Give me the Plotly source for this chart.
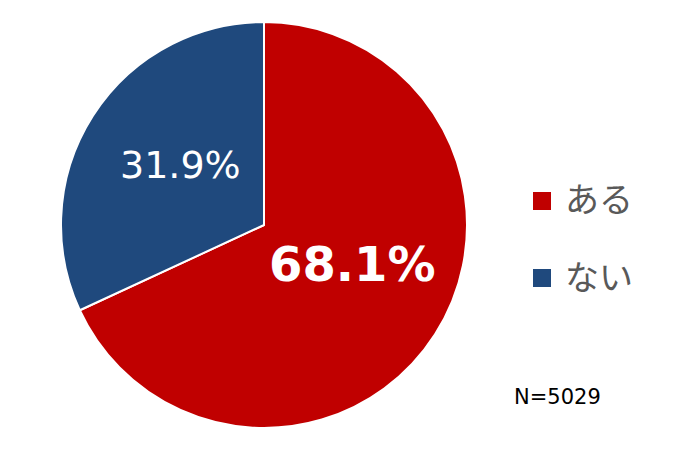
import plotly.graph_objects as go

labels = ['ある', 'ない']
values = [68.1, 31.9]
colors = ['#C00000', '#1F497D']
sample_note = 'N=5029'

W, H = 685, 449


def px(x, y):
    return x / W, 1 - y / H


fig = go.Figure(go.Pie(
    labels=labels,
    values=values,
    sort=False,
    direction='clockwise',
    rotation=0,
    marker=dict(colors=colors, line=dict(color='white', width=2)),
    textinfo='none',
    domain=dict(x=[61 / W, 467 / W], y=[1 - 428 / H, 1 - 22 / H]),
    showlegend=False,
    hoverinfo='label+percent',
))

# percentage labels
label_pos = [(352, 264), (180, 165)]
label_font = [dict(size=48, weight='bold'), dict(size=38, weight='normal')]
for v, (x, y), f in zip(values, label_pos, label_font):
    ax, ay = px(x, y)
    fig.add_annotation(x=ax, y=ay, xref='paper', yref='paper', text=f'{v:.1f}%',
                       showarrow=False, xanchor='center', yanchor='middle',
                       font=dict(color='white', family='DejaVu Sans, Verdana, sans-serif', **f))

# legend drawn by hand to get the wide row spacing
for i, (lab, col) in enumerate(zip(labels, colors)):
    yc = 201 + i * 77
    x0, y0 = px(533, yc - 9)
    x1, y1 = px(551, yc + 9)
    fig.add_shape(type='rect', xref='paper', yref='paper',
                  x0=x0, x1=x1, y0=y0, y1=y1,
                  fillcolor=col, line=dict(width=0))
    tx, ty = px(563, yc - 3)
    fig.add_annotation(x=tx, y=ty, xref='paper', yref='paper',
                       text=lab, showarrow=False, xanchor='left', yanchor='middle',
                       font=dict(size=34, color='#595959',
                                 family='Noto Sans CJK JP, sans-serif'))

nx, ny = px(557, 397)
fig.add_annotation(x=nx, y=ny, xref='paper', yref='paper',
                   text=sample_note, showarrow=False, xanchor='center', yanchor='middle',
                   font=dict(size=21, color='black', family='DejaVu Sans, Verdana, sans-serif'))

fig.update_layout(
    width=W, height=H,
    margin=dict(l=0, r=0, t=0, b=0),
    paper_bgcolor='white',
    plot_bgcolor='white',
)

fig.write_html('out.html', config={'displayModeBar': False},
               post_script="document.body.style.margin='0';")
